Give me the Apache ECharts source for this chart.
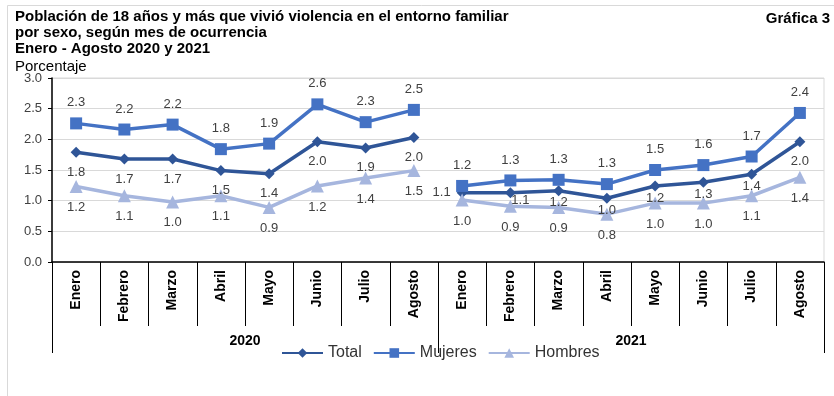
<!DOCTYPE html>
<html>
<head>
<meta charset="utf-8">
<script src="https://cdn.jsdelivr.net/npm/echarts@6/dist/echarts.min.js"></script>
<style>
  html, body { margin: 0; padding: 0; background: #fff; }
  #main { width: 834px; height: 396px; }
</style>
</head>
<body>
<div id="main"></div>
<script>
const months = ['Enero', 'Febrero', 'Marzo', 'Abril', 'Mayo', 'Junio', 'Julio', 'Agosto']
const years = ['2020', '2021']
const yTicks = [0, 0.5, 1, 1.5, 2, 2.5, 3]

// valores por año (ene - ago)
const total2020 = [1.79, 1.68, 1.68, 1.49, 1.44, 1.96, 1.86, 2.03]
const total2021 = [1.13, 1.13, 1.16, 1.04, 1.24, 1.30, 1.43, 1.96]
const mujeres2020 = [2.26, 2.16, 2.24, 1.84, 1.93, 2.57, 2.28, 2.48]
const mujeres2021 = [1.24, 1.33, 1.34, 1.27, 1.50, 1.58, 1.72, 2.43]
const hombres2020 = [1.23, 1.08, 0.98, 1.08, 0.89, 1.24, 1.37, 1.49]
const hombres2021 = [1.01, 0.91, 0.89, 0.78, 0.96, 0.96, 1.08, 1.38]

const categories = years.flatMap(() => months)
const font = 'Liberation Sans, Arial, sans-serif'

const colors = {
  Total: '#2F5597',
  Mujeres: '#4472C4',
  Hombres: '#A6B6DE'
}
const symbols = { Total: 'diamond', Mujeres: 'rect', Hombres: 'triangle' }
const symbolSizes = { Total: 11, Mujeres: 12, Hombres: 13 }
const labelPos = { Total: 'bottom', Mujeres: 'top', Hombres: 'bottom' }

// etiquetas del total en 2021 van pegadas a la linea
function totalLabel(i) {
  if (i === 8) return { position: 'left', distance: 6 }
  if (i === 9) return { offset: [10, -4], distance: 0 }
  if (i > 9 && i < 15) return { distance: 0 }
  return null
}

function makeSeries(name, values, yearIndex) {
  const data = categories.map((c, i) => {
    const k = i - yearIndex * months.length
    if (k < 0 || k >= months.length) return '-'
    const v = values[k]
    if (name === 'Total') {
      const lab = totalLabel(i)
      if (lab) return { value: v, label: lab }
    }
    return v
  })
  return {
    name: name,
    type: 'line',
    xAxisIndex: 0,
    data: data,
    symbol: symbols[name],
    symbolSize: symbolSizes[name],
    showAllSymbol: true,
    lineStyle: { color: colors[name], width: 3.5 },
    itemStyle: { color: colors[name] },
    label: {
      show: true,
      position: labelPos[name],
      distance: 8,
      fontFamily: font,
      fontSize: 13,
      color: '#404040',
      formatter: p => p.value.toFixed(1)
    },
    emphasis: { disabled: true },
    animation: false
  }
}

const chart = echarts.init(document.getElementById('main'))

chart.setOption({
  backgroundColor: '#fff',
  textStyle: { fontFamily: font },
  title: [
    {
      text: 'Población de 18 años y más que vivió violencia en el entorno familiar\npor sexo, según mes de ocurrencia\nEnero - Agosto 2020 y 2021',
      left: 15,
      top: 9,
      padding: 0,
      textStyle: { fontFamily: font, fontSize: 15, fontWeight: 'bold', color: '#000', lineHeight: 16 }
    },
    {
      text: 'Gráfica 3',
      right: 4,
      top: 11,
      padding: 0,
      textStyle: { fontFamily: font, fontSize: 15, fontWeight: 'bold', color: '#000' }
    },
    {
      text: 'Porcentaje',
      left: 15,
      top: 59,
      padding: 0,
      textStyle: { fontFamily: font, fontSize: 15, fontWeight: 'normal', color: '#000' }
    }
  ],
  graphic: [
    {
      type: 'rect',
      shape: { x: 7.5, y: 5.5, width: 840, height: 400 },
      style: { fill: 'none', stroke: '#d9d9d9', lineWidth: 1 },
      silent: true
    }
  ],
  legend: {
    data: ['Total', 'Mujeres', 'Hombres'],
    left: 276,
    top: 340,
    itemWidth: 41,
    itemHeight: 12,
    itemGap: 11,
    textStyle: { fontFamily: font, fontSize: 16, color: '#333' }
  },
  grid: {
    left: 52,
    right: 10,
    top: 78,
    bottom: 134,
    show: true,
    borderColor: '#d9d9d9',
    borderWidth: 1
  },
  xAxis: [
    {
      type: 'category',
      data: categories,
      boundaryGap: true,
      axisLine: { lineStyle: { color: '#000', width: 1.5 } },
      axisTick: { show: true, length: 64, lineStyle: { color: '#000' } },
      axisLabel: {
        interval: 0,
        rotate: 90,
        margin: 8,
        fontFamily: font,
        fontSize: 14,
        fontWeight: 'bold',
        color: '#000'
      },
      splitLine: { show: false }
    },
    {
      type: 'category',
      data: years,
      position: 'bottom',
      boundaryGap: true,
      axisLine: { show: false },
      axisTick: { show: true, length: 91, lineStyle: { color: '#000' } },
      axisLabel: {
        margin: 72,
        fontFamily: font,
        fontSize: 14,
        fontWeight: 'bold',
        color: '#000'
      },
      splitLine: { show: false }
    }
  ],
  yAxis: {
    type: 'value',
    min: yTicks[0],
    max: yTicks[yTicks.length - 1],
    interval: 0.5,
    axisLine: { show: true, lineStyle: { color: '#000', width: 1.5 } },
    axisTick: { show: true, length: 4, lineStyle: { color: '#000' } },
    axisLabel: {
      margin: 10,
      fontFamily: font,
      fontSize: 13,
      color: '#404040',
      formatter: v => v.toFixed(1)
    },
    splitLine: { lineStyle: { color: '#d9d9d9', width: 1 } }
  },
  series: [
    makeSeries('Total', total2020, 0),
    makeSeries('Total', total2021, 1),
    makeSeries('Mujeres', mujeres2020, 0),
    makeSeries('Mujeres', mujeres2021, 1),
    makeSeries('Hombres', hombres2020, 0),
    makeSeries('Hombres', hombres2021, 1)
  ]
})
</script>
</body>
</html>
